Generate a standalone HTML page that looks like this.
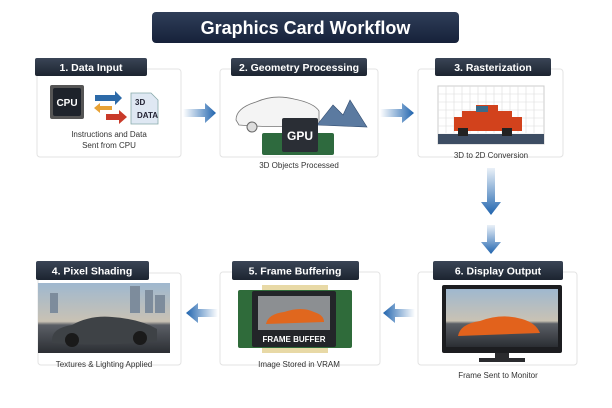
<!DOCTYPE html>
<html><head><meta charset="utf-8"><style>
html,body{margin:0;padding:0;background:#fff;}
svg{display:block;font-family:"Liberation Sans",sans-serif;}
</style></head><body>
<svg width="612" height="408" viewBox="0 0 612 408" xmlns="http://www.w3.org/2000/svg">
<defs>
<linearGradient id="hdr" x1="0" y1="0" x2="0" y2="1"><stop offset="0" stop-color="#3a4556"/><stop offset="1" stop-color="#1c2430"/></linearGradient>
<linearGradient id="ttl" x1="0" y1="0" x2="0" y2="1"><stop offset="0" stop-color="#2f3e58"/><stop offset="1" stop-color="#16213a"/></linearGradient>
<linearGradient id="arR" x1="0" x2="1"><stop offset="0" stop-color="#2a6db5" stop-opacity="0"/><stop offset="1" stop-color="#1f63ad"/></linearGradient>
<linearGradient id="arL" x1="1" x2="0"><stop offset="0" stop-color="#2a6db5" stop-opacity="0"/><stop offset="1" stop-color="#1f63ad"/></linearGradient>
<linearGradient id="arD" x1="0" y1="0" x2="0" y2="1"><stop offset="0" stop-color="#2a6db5" stop-opacity="0.1"/><stop offset="1" stop-color="#1f63ad"/></linearGradient>
<linearGradient id="sky" x1="0" y1="0" x2="0" y2="1"><stop offset="0" stop-color="#9fb8cf"/><stop offset="0.55" stop-color="#c9c2b4"/><stop offset="0.6" stop-color="#5b5f66"/><stop offset="1" stop-color="#2b2e33"/></linearGradient>
</defs>
<rect x="152" y="12" width="307" height="31" rx="4" fill="url(#ttl)"/>
<text x="305.5" y="34" text-anchor="middle" font-size="18" font-weight="bold" fill="#fff">Graphics Card Workflow</text>

<g fill="#fff" stroke="#e3e3e3">
<rect x="37" y="69" width="144" height="88" rx="3"/>
<rect x="220" y="69" width="158" height="88" rx="3"/>
<rect x="418" y="69" width="145" height="88" rx="3"/>
<rect x="38" y="273" width="143" height="92" rx="3"/>
<rect x="220" y="272" width="160" height="93" rx="3"/>
<rect x="418" y="272" width="159" height="93" rx="3"/>
</g>
<g fill="url(#hdr)">
<rect x="35" y="58" width="112" height="18" rx="2"/>
<rect x="231" y="58" width="136" height="18" rx="2"/>
<rect x="435" y="58" width="116" height="18" rx="2"/>
<rect x="36" y="261" width="113" height="19" rx="2"/>
<rect x="232" y="261" width="127" height="19" rx="2"/>
<rect x="433" y="261" width="130" height="19" rx="2"/>
</g>
<g fill="#fff" font-size="10.5" font-weight="bold" text-anchor="middle">
<text x="91" y="71">1. Data Input</text>
<text x="299" y="71" textLength="120" lengthAdjust="spacingAndGlyphs">2. Geometry Processing</text>
<text x="493" y="71">3. Rasterization</text>
<text x="92" y="274.5">4. Pixel Shading</text>
<text x="295" y="274.5">5. Frame Buffering</text>
<text x="498" y="274.5">6. Display Output</text>
</g>

<rect x="50" y="85" width="34" height="34" rx="2" fill="#555"/>
<rect x="53" y="88" width="28" height="28" rx="2" fill="#1e232b"/>
<text x="67" y="106" text-anchor="middle" fill="#fff" font-size="10" font-weight="bold">CPU</text>
<polygon points="95,95 115,95 115,91 122,98 115,105 115,101 95,101" fill="#2d6aa8"/>
<polygon points="112,106 100,106 100,103 94,108 100,113 100,110 112,110" fill="#e8a235"/>
<polygon points="106,114 119,114 119,110 127,117 119,124 119,120 106,120" fill="#c93a2a"/>
<path d="M131,93 h20 l7,7 v24 h-27z" fill="#dfe8f3" stroke="#8aa" stroke-width="0.8"/>
<text x="135" y="105" font-size="8" font-weight="bold" fill="#223">3D</text>
<text x="137" y="118" font-size="8" font-weight="bold" fill="#223">DATA</text>
<text x="109" y="137" text-anchor="middle" font-size="8" fill="#333">Instructions and Data</text>
<text x="109" y="148" text-anchor="middle" font-size="8" fill="#333">Sent from CPU</text>

<path d="M236,120 q0,-12 20,-18 q18,-8 38,-3 q20,4 25,12 v12 q-30,6 -80,2z" fill="#f4f4f4" stroke="#777" stroke-width="0.8"/>
<circle cx="252" cy="127" r="5" fill="#ddd" stroke="#666"/><circle cx="304" cy="124" r="5" fill="#ddd" stroke="#666"/>
<polygon points="317,125 333,105 343,115 350,100 367,127" fill="#5b7aa0" stroke="#2f4a6e" stroke-width="0.6"/>
<rect x="262" y="133" width="72" height="22" rx="2" fill="#2e6a3e"/>
<rect x="282" y="118" width="36" height="34" rx="2" fill="#2a2e35"/>
<text x="300" y="140" text-anchor="middle" fill="#fff" font-size="12" font-weight="bold">GPU</text>
<text x="299" y="168" text-anchor="middle" font-size="8" fill="#333">3D Objects Processed</text>

<rect x="438" y="86" width="106" height="58" fill="#fff" stroke="#ccc"/>
<g stroke="#ddd" stroke-width="0.6">
<path d="M438,94h106M438,102h106M438,110h106M438,118h106M438,126h106M438,134h106"/>
<path d="M446,86v47M454,86v47M462,86v47M470,86v47M478,86v47M486,86v47M494,86v47M502,86v47M510,86v47M518,86v47M526,86v47M534,86v47"/>
</g>
<rect x="438" y="134" width="106" height="10" fill="#3d4d63"/>
<path d="M454,117h8v-6h14v-6h22v6h14v6h10v14h-68z" fill="#d2421c"/>
<rect x="476" y="106" width="12" height="6" fill="#3a6b8a"/>
<rect x="458" y="128" width="10" height="8" fill="#222"/><rect x="502" y="128" width="10" height="8" fill="#222"/>
<text x="491" y="158" text-anchor="middle" font-size="8" fill="#333">3D to 2D Conversion</text>

<rect x="38" y="283" width="132" height="70" fill="url(#sky)"/>
<g fill="#7d8c9c"><rect x="50" y="293" width="8" height="20"/><rect x="130" y="286" width="10" height="27"/><rect x="145" y="290" width="8" height="23"/><rect x="155" y="295" width="10" height="18"/></g>
<path d="M52,340 q0,-12 20,-15 q18,-10 40,-8 q28,2 45,12 v12 q-50,6 -105,2z" fill="#3e4246"/>
<circle cx="72" cy="340" r="7" fill="#1a1a1a"/><circle cx="140" cy="338" r="7" fill="#1a1a1a"/>
<text x="104" y="367" text-anchor="middle" font-size="8" fill="#333">Textures &amp; Lighting Applied</text>

<rect x="238" y="290" width="114" height="58" rx="2" fill="#2f6b3a"/>
<g fill="#e8d9a6"><rect x="262" y="285" width="66" height="5"/><rect x="262" y="348" width="66" height="5"/></g>
<rect x="252" y="291" width="84" height="56" rx="2" fill="#232529"/>
<rect x="258" y="296" width="72" height="34" fill="#8c8f92"/>
<path d="M266,324 q2,-10 18,-12 q18,-6 30,0 q10,3 10,10 z" fill="#e0671e"/>
<text x="294" y="342" text-anchor="middle" fill="#fff" font-size="8" font-weight="bold">FRAME BUFFER</text>
<text x="299" y="367" text-anchor="middle" font-size="8" fill="#333">Image Stored in VRAM</text>

<rect x="442" y="285" width="120" height="68" rx="2" fill="#1c1d20"/>
<rect x="446" y="289" width="112" height="58" fill="url(#sky)"/>
<path d="M458,336 q2,-12 22,-15 q22,-8 42,-2 q14,4 18,14 z" fill="#e2621c"/>
<path d="M495,353 h14 v5 h16 v4 h-46 v-4 h16z" fill="#2a2b2e"/>
<text x="498" y="378" text-anchor="middle" font-size="8" fill="#333">Frame Sent to Monitor</text>

<polygon points="183,109 205,109 205,103 216,113 205,123 205,117 183,117" fill="url(#arR)"/>
<polygon points="380,109 402,109 402,103 414,113 402,123 402,117 380,117" fill="url(#arR)"/>
<polygon points="487,168 495,168 495,202 501,202 491,215 481,202 487,202" fill="url(#arD)"/>
<polygon points="487,225 495,225 495,242 501,242 491,254 481,242 487,242" fill="url(#arD)"/>
<polygon points="218,309 198,309 198,303 186,313 198,323 198,317 218,317" fill="url(#arL)"/>
<polygon points="415,309 395,309 395,303 383,313 395,323 395,317 415,317" fill="url(#arL)"/>
</svg>
</body></html>
